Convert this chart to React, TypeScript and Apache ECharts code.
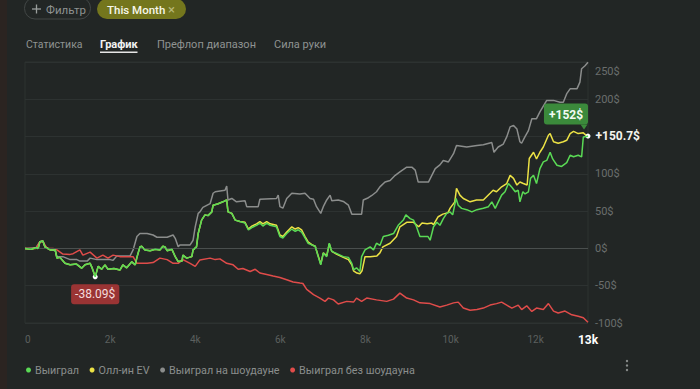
import React, { useEffect, useRef } from "react";
import * as echarts from "echarts";

const FONT = "Roboto, 'Noto Sans', 'DejaVu Sans', sans-serif";

const seriesNames = ["Выиграл", "Олл-ин EV", "Выиграл на шоудауне", "Выиграл без шоудауна"];
const seriesColors = ["#5ada55", "#ece245", "#8b8d8c", "#e04c4a"];
const tabLabels = ["Статистика", "График", "Префлоп диапазон", "Сила руки"];
const yTicks = [-100, -50, 0, 50, 100, 150, 200, 250];
const totalHands = 13230;
const minPoint = { hand: 1650, value: -38.09, label: "-38.09$" };
const evEnd = { hand: 13230, value: 152, label: "+152$" };
const wonEnd = { hand: 13230, value: 150.7, label: "+150.7$" };

const wonHands = [0,140,260,310,350,420,470,590,710,750,820,940,1060,1210,1330,1410,1530,1570,1650,1720,1800,1880,1950,2090,2230,2300,2390,2510,2590,2630,2700,2740,2820,2940,3060,3170,3240,3290,3340,3450,3530,3600,3690,3710,3800,3920,3950,4030,4070,4150,4230,4300,4390,4420,4540,4650,4740,4770,4860,4940,5050,5170,5250,5330,5440,5520,5590,5680,5760,5910,5990,6060,6150,6270,6350,6420,6500,6580,6650,6740,6820,6890,6950,7010,7090,7150,7210,7330,7480,7600,7680,7720,7790,7870,7910,7990,8110,8190,8260,8340,8420,8540,8660,8770,8890,8950,9050,9130,9200,9280,9400,9470,9520,9600,9680,9750,9830,9910,9990,10050,10130,10180,10260,10380,10500,10620,10770,10890,10970,11050,11120,11200,11280,11360,11440,11520,11590,11630,11700,11750,11830,11880,11950,12020,12100,12180,12260,12340,12400,12500,12610,12730,12810,12890,13000,13080,13120,13200,13230];
const wonValues = [0,-1,1,0,9,10,2,-2,-2,-13,-12,-20,-22,-21,-26.5,-22,-20,-25,-38.09,-24,-28,-22,-28,-27,-29,-22,-26,-18,-22,-12,2,3,-2,-3,-1,-2,3,2,-3,-1,-11,-17.6,-17,-9,-13,-11,-2,2,20,38,45,44,49,58,60,62.5,65,49,47,38,36,34,24.7,28,31,34,30,34,31,29,16,14,20,26,23,25,22,14,7,4.7,3,-11,-22,-6,-11,7,-4,-7,-11,-12,-20,-28.7,-26,-31,-11,-2,2,-2,7,4,16,17.6,20,31,38,45,40,38,29,16,16,16,11,29,35,31,40,47,49,45,67,58,53.7,52,49,52,54,56,62.5,53.7,62,71.5,76,87,82,76,78,62.5,76,73,76,94,98,87,107,116,118,129,120,111.6,110,115,125,123,125,122.7,149.5,150,150.7];

const evHands = [0,140,260,310,350,420,470,590,710,750,820,940,1060,1210,1330,1410,1530,1570,1650,1720,1800,1880,1950,2090,2230,2300,2390,2510,2590,2630,2700,2740,2820,2940,3060,3170,3240,3290,3340,3450,3530,3600,3690,3710,3800,3920,3950,4030,4070,4150,4230,4300,4390,4420,4540,4650,4740,4770,4860,4940,5050,5170,5250,5330,5440,5520,5590,5680,5760,5910,5990,6060,6150,6270,6350,6420,6500,6580,6650,6740,6820,6890,6950,7010,7090,7150,7210,7330,7480,7600,7680,7720,7800,7870,7920,7990,8110,8270,8340,8410,8580,8730,8810,8970,9130,9250,9330,9450,9560,9600,9710,9820,9940,9990,10100,10140,10220,10300,10460,10610,10770,10930,11000,11080,11200,11320,11400,11480,11560,11630,11710,11800,11850,11950,12020,12100,12180,12300,12340,12420,12530,12650,12730,12810,12890,13000,13120,13180,13230];
const evValues = [0,-1,1,0,9,10,2,-2,-2,-13,-12,-20,-22,-21,-26.5,-22,-20,-25,-38.09,-24,-28,-22,-28,-27,-29,-22,-26,-18,-22,-12,2,3,-2,-3,-1,-2,3,2,-3,-1,-11,-17.6,-17,-9,-13,-11,-2,2,20,38,45,44,49,58,60,62.5,65,49,47,38,36,35,26,30,33,36,33,36,33,31,18,16,22,29,26,28,25,16,9,5,3,-10,-21,-6,-10,6,-4,-8,-12,-15,-22,-30,-33,-34,-30,-11,-11,-10,-6,2,7,16,29,35,35,29,34,33,34,32,42.5,46,48,54,62.5,80.5,71.5,67,62.5,65,65,74,78,76,82.6,87,98,94,85,89,87,85,120.6,129,120,129,136,151.7,154,143,141,143,145,154,157,154,155,152,152];

const showdownHands = [0,260,350,420,470,590,710,750,890,1060,1220,1290,1460,1530,1690,2000,2070,2160,2470,2540,2630,2700,2870,3010,3100,3340,3480,3530,3600,3640,3880,3950,4000,4070,4110,4180,4350,4420,4470,4700,4740,4770,4860,4970,5170,5210,5480,5520,5910,5950,5990,6060,6150,6270,6460,6580,6700,6780,6850,6950,7010,7090,7170,7210,7360,7480,7600,7680,7910,7950,8070,8150,8260,8340,8460,8580,8700,8810,8970,9090,9170,9240,9480,9560,9640,9750,9830,9950,10070,10140,10380,10620,10770,10970,11020,11120,11240,11320,11400,11480,11560,11630,11670,11750,11830,11910,12020,12100,12260,12420,12570,12650,12730,12810,12970,13040,13080,13160,13230];
const showdownValues = [0,1,9,10,2,-1,-3,-11,-11,-15,-15,-17,-17,-13,-15,-15,-16,-10,-10,-2,16,20,20,18,15,15,18,13.6,2.4,4.7,4.7,11,29,47,49,55,60,74,76,78,83.5,65,67,62.5,64,56,56,66,67,71.5,56,54,67,74,73,74,67,66,56,47,56,65,71.5,64,65,63,58,46,46,65,68,71,76,82.6,89,91,98,102.7,109,109,105,89,89,98,107,112,118,116,127,138,136,138,139,142,129,136,140,149.5,163,165,160,143,141,150,158,174,174,183,198.5,198.5,196,196,207.5,214,214,223,241,245,249.7];

const nonShowdownHands = [0,260,350,420,520,660,750,890,1060,1130,1290,1360,1530,1690,1830,1950,2070,2230,2400,2540,2630,2870,3010,3170,3340,3480,3600,3710,3880,4000,4110,4350,4470,4580,4740,4890,5010,5120,5290,5410,5520,5680,5830,5990,6150,6300,6460,6530,6620,6780,6930,7050,7130,7250,7360,7560,7720,7790,7910,8030,8260,8500,8660,8810,8970,9130,9280,9520,9750,9910,10070,10180,10300,10460,10620,10770,10930,11080,11200,11320,11440,11590,11670,11790,11910,12020,12180,12300,12420,12530,12690,12850,13000,13120,13230];
const nonShowdownValues = [0,0,9,9,0,0,-2,-7.5,-8,-7,-2,-9,-5,-13,-9,-13,-9,-11,-11,-11,-20,-20,-19,-13,-15,-20,-20,-15,-20,-24,-15.4,-13,-15,-14,-20,-22,-28,-27,-31,-28,-33,-35,-37,-39,-42,-45,-46.5,-47,-55,-62,-66.6,-71,-66.6,-69,-74.6,-71,-72,-66.6,-71,-66.6,-69,-71,-68,-60,-66.6,-69,-73,-74,-78.6,-76,-73,-72,-80,-83,-82,-80,-76,-74,-72,-76,-80,-76,-82,-77,-84.5,-80,-82,-74,-84,-86.6,-84,-89,-91,-93,-99];

const pair = (h: number[], v: number[]) => h.map((x, i) => [x, v[i]]);

function buildOption(): any {
  const lineBase = (idx: number, data: number[][], z: number) => ({
    name: seriesNames[idx],
    type: "line",
    data,
    z,
    showSymbol: false,
    symbol: "none",
    color: seriesColors[idx],
    lineStyle: { width: 1.5, color: seriesColors[idx] },
  });

  const won: any = lineBase(0, pair(wonHands, wonValues), 5);
  won.markPoint = {
    silent: true,
    animation: false,
    data: [
      {
        coord: [minPoint.hand, minPoint.value],
        symbol: "circle",
        symbolSize: 5,
        itemStyle: { color: "#ffffff" },
        label: {
          show: true,
          position: "bottom",
          distance: 5,
          formatter: minPoint.label,
          backgroundColor: "#9a3434",
          borderRadius: 3,
          padding: [3, 4, 3, 4],
          lineHeight: 14,
          color: "#f4dcdc",
          fontSize: 12,
          fontFamily: FONT,
        },
      },
      {
        coord: [wonEnd.hand, wonEnd.value],
        symbol: "circle",
        symbolSize: 5,
        itemStyle: { color: "#ffffff" },
        label: {
          show: true,
          position: "right",
          distance: 5,
          formatter: wonEnd.label,
          color: "#f4f4f0",
          fontSize: 12,
          fontWeight: "bold",
          fontFamily: FONT,
        },
      },
    ],
  };

  const ev: any = lineBase(1, pair(evHands, evValues), 4);
  ev.markPoint = {
    silent: true,
    animation: false,
    data: [
      {
        coord: [evEnd.hand, evEnd.value],
        symbol: "triangle",
        symbolRotate: 180,
        symbolSize: [7, 5],
        symbolOffset: [-4, -8],
        itemStyle: { color: "#3b8a3b" },
        label: {
          show: true,
          position: "top",
          distance: 0,
          offset: [-18, 0],
          formatter: evEnd.label,
          backgroundColor: "#3b8a3b",
          borderRadius: 3,
          padding: [4, 5, 3, 5],
          lineHeight: 14,
          color: "#f2fbf2",
          fontSize: 12,
          fontWeight: "bold",
          fontFamily: FONT,
        },
      },
    ],
  };

  const showdown: any = lineBase(2, pair(showdownHands, showdownValues), 3);
  showdown.markLine = {
    silent: true,
    symbol: "none",
    animation: false,
    label: { show: false },
    lineStyle: { color: "#4a4f4e", type: "solid", width: 1 },
    data: [{ yAxis: 0 }],
  };
  const nonShowdown: any = lineBase(3, pair(nonShowdownHands, nonShowdownValues), 3);

  const tabX = [26, 100, 157, 274];
  const graphic: any[] = [
    { type: "rect", shape: { x: 0, y: 0, width: 7, height: 389 }, style: { fill: "#2b2421" }, silent: true },
    { type: "rect", shape: { x: 24.5, y: -2.5, width: 66, height: 21.5, r: 10.5 }, style: { fill: "none", stroke: "#424746", lineWidth: 1 }, silent: true },
    { type: "line", shape: { x1: 32, y1: 9, x2: 41, y2: 9 }, style: { stroke: "#9a9e9d", lineWidth: 1.3 }, silent: true },
    { type: "line", shape: { x1: 36.5, y1: 4.5, x2: 36.5, y2: 13.5 }, style: { stroke: "#9a9e9d", lineWidth: 1.3 }, silent: true },
    { type: "text", x: 46, y: 9.5, style: { text: "Фильтр", fill: "#8e9291", fontSize: 11.5, fontFamily: FONT, verticalAlign: "middle" }, silent: true },
    { type: "rect", shape: { x: 97, y: -1, width: 89, height: 20, r: 10 }, style: { fill: "#74761d" }, silent: true },
    { type: "text", x: 107, y: 9.5, style: { text: "This Month", fill: "#f6f6ea", fontSize: 11.5, fontWeight: 500, fontFamily: FONT, verticalAlign: "middle" }, silent: true },
    { type: "text", x: 168, y: 9, style: { text: "×", fill: "#b8b878", fontSize: 13, fontFamily: FONT, verticalAlign: "middle" }, silent: true },
    { type: "rect", shape: { x: 100, y: 51.5, width: 37.5, height: 1.6 }, style: { fill: "#e6e6e6" }, silent: true },
    { type: "circle", shape: { cx: 627, cy: 361, r: 1.2 }, style: { fill: "#8a8e8d" }, silent: true },
    { type: "circle", shape: { cx: 627, cy: 365.5, r: 1.2 }, style: { fill: "#8a8e8d" }, silent: true },
    { type: "circle", shape: { cx: 627, cy: 370, r: 1.2 }, style: { fill: "#8a8e8d" }, silent: true },
  ];
  tabLabels.forEach((t, i) => {
    const active = i === 1;
    graphic.push({
      type: "text",
      x: tabX[i],
      y: 44,
      style: {
        text: t,
        fill: active ? "#f2f2f2" : "#8f9392",
        fontSize: i === 0 ? 10.5 : 11,
        fontWeight: active ? "bold" : "normal",
        fontFamily: FONT,
        verticalAlign: "middle",
      },
      silent: true,
    });
  });

  return {
    animation: false,
    backgroundColor: "#222625",
    textStyle: { fontFamily: FONT },
    grid: {
      left: 25,
      right: 112,
      top: 62,
      bottom: 66,
      show: true,
      borderColor: "#2d3231",
      borderWidth: 1,
      backgroundColor: "transparent",
    },
    legend: {
      left: 21,
      top: 359.5,
      icon: "circle",
      itemWidth: 5,
      itemHeight: 5,
      itemGap: 10.5,
      textStyle: { color: "#8a8e8d", fontSize: 10.8, fontFamily: FONT, padding: [0, 0, 0, -1] },
      data: seriesNames,
    },
    xAxis: {
      type: "value",
      min: 0,
      max: totalHands,
      interval: 2000,
      axisLine: { show: false },
      axisTick: { show: false },
      splitLine: { show: false },
      axisLabel: {
        color: "#5c605f",
        fontSize: 10,
        margin: 11,
        alignMinLabel: "left",
        fontFamily: FONT,
        formatter: (v: number) =>
          v === totalHands ? "{b|13k}" : v === 0 ? "0" : v / 1000 + "k",
        rich: {
          b: { fontSize: 12, fontWeight: "bold", color: "#ffffff", fontFamily: FONT },
        },
      },
    },
    yAxis: {
      type: "value",
      position: "right",
      min: yTicks[0],
      max: yTicks[yTicks.length - 1],
      interval: 50,
      axisLine: { show: false },
      axisTick: { show: false },
      splitLine: { lineStyle: { color: "#2d3231", width: 1 } },
      axisLabel: {
        color: "#6a6e6d",
        fontSize: 11,
        margin: 7,
        fontFamily: FONT,
        formatter: (v: number) =>
          v === 250 ? "{t|250$}" : v === 150 ? "" : v + "$",
        rich: {
          t: { color: "#6a6e6d", fontSize: 11, fontFamily: FONT, padding: [19, 0, 0, 0] },
        },
      },
    },
    series: [won, ev, showdown, nonShowdown],
    graphic,
  };
}

export default function App() {
  const ref = useRef<HTMLDivElement>(null);
  useEffect(() => {
    if (!ref.current) return;
    const chart = echarts.init(ref.current, null, { renderer: "svg" });
    chart.setOption(buildOption());
    return () => chart.dispose();
  }, []);
  return (
    <div
      ref={ref}
      style={{ position: "fixed", left: 0, top: 0, width: 700, height: 389, background: "#222625" }}
    />
  );
}
